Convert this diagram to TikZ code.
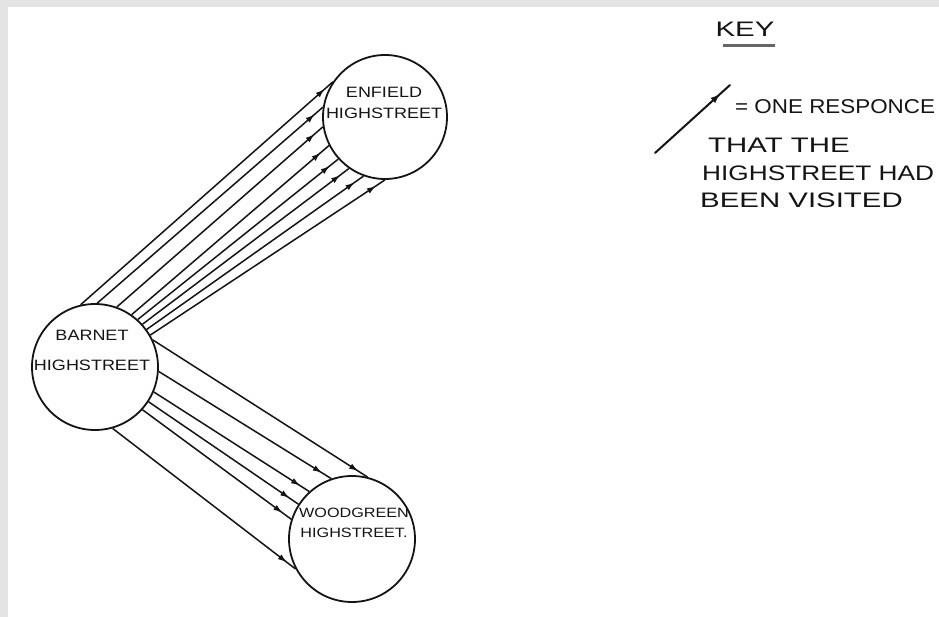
\documentclass[tikz,border=0pt]{standalone}
\usepackage{fontspec}
\newfontfamily\hand[FakeStretch=1.4]{Liberation Sans}
\newfontfamily\handA[FakeStretch=1.12]{Liberation Sans}
\newfontfamily\handB[FakeStretch=1.25]{Liberation Sans}
\newfontfamily\handC[FakeStretch=1.2]{Liberation Sans}
\usetikzlibrary{arrows.meta,decorations.markings}
\definecolor{frameGray}{RGB}{228,228,228}
\definecolor{ink}{RGB}{20,20,20}
\tikzset{
  town/.style={circle,draw=ink,line width=1.8pt,inner sep=0pt},
  townlabel/.style={font=\handC\fontsize{15}{21}\selectfont,align=center,inner sep=0pt,text=ink},
  keytext/.style={font=\hand\fontsize{21}{24}\selectfont,anchor=west,inner sep=0pt,text=ink},
  visit/.style={draw=ink,line width=1.5pt,postaction={decorate},
    decoration={markings,mark=at position -11pt with {\arrow{Latex[length=9pt,width=6pt]}}}},
  keyarrow/.style={draw=ink,line width=2pt,line cap=round,postaction={decorate},
    decoration={markings,mark=at position -13pt with {\arrow{Latex[length=10pt,width=7pt]}}}}
}
\begin{document}
\begin{tikzpicture}[x=1pt,y=-1pt]
\useasboundingbox (0,0) rectangle (939,617);
\clip (0,0) rectangle (939,617);
\fill[frameGray] (0,0) rectangle (939,617);
\fill[white] (8,7) rectangle (939,617);

% towns
\node[town,minimum size=126pt] (bar) at (95,367) {};
\node[town,minimum size=124pt] (enf) at (385,117) {};
\node[town,minimum size=126pt] (wg) at (352,539) {};

\node[townlabel] (enfl) at (384,103) {ENFIELD\\HIGHSTREET};
\node[townlabel,font=\handC\fontsize{15}{30}\selectfont] (barl) at (92,350) {BARNET\\HIGHSTREET};
\node[townlabel,font=\handC\fontsize{13.5}{20}\selectfont] (wgl) at (354,523) {WOODGREEN\\HIGHSTREET.};

% Barnet -> Enfield
\foreach \a/\b in {103/146, 88/171, 70/189, 55/207, 48/222, 42/235, 36/250, 30/270}
  \draw[visit] (bar.\a) -- (enf.\b);

% Barnet -> Woodgreen
\foreach \a/\b in {25/76, 356/109, 337/132, 327/147, 318/162, 286/208}
  \draw[visit] (bar.\a) -- (wg.\b);

% key
\node[font=\hand\fontsize{21}{24}\selectfont,inner sep=0pt,text=ink] (keyt) at (745,29) {KEY};
\draw[line width=2.6pt,draw=black!60] ([xshift=8pt,yshift=-9pt]keyt.south west) -- ([yshift=-9pt]keyt.south east);
\coordinate (ka) at (655,153);
\coordinate (kb) at (730,85);
\draw[keyarrow] (ka) -- (kb);
\node[keytext,font=\handA\fontsize{20}{24}\selectfont] (k1) at (735,107) {= ONE RESPONCE};
\node[keytext] (k2) at (708,145) {THAT THE};
\node[keytext,font=\handB\fontsize{21}{24}\selectfont] (k3) at (702,173) {HIGHSTREET HAD};
\node[keytext] (k4) at (700,200) {BEEN VISITED};
\end{tikzpicture}
\end{document}
